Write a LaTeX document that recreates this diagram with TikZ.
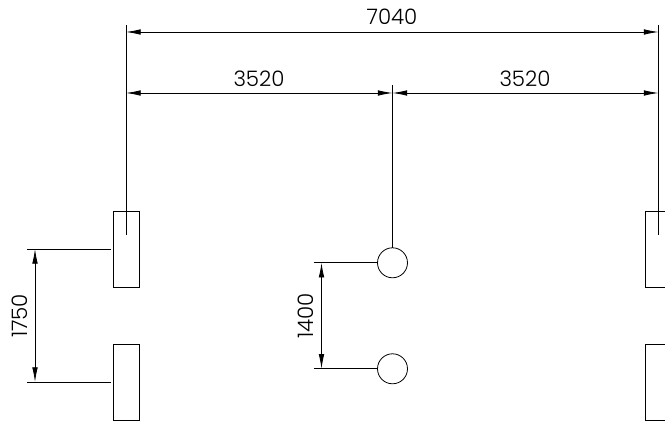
\documentclass[tikz,border=0pt]{standalone}
\usepackage{fontspec}
\setmainfont{Poppins Light}
\usetikzlibrary{arrows.meta}

\begin{document}
\begin{tikzpicture}[x=.75pt,y=-.75pt,line width=.6pt,
    post/.style={draw,minimum width=18.9pt,minimum height=57pt,inner sep=0pt,outer sep=0pt},
    pile/.style={draw,circle,minimum size=22.5pt,inner sep=0pt,outer sep=0pt},
    dimline/.style={{Latex[length=11pt,width=4.2pt]}-{Latex[length=11pt,width=4.2pt]}},
    dimtext/.style={font=\fontsize{16pt}{16pt}\selectfont,inner sep=0pt}]
  \useasboundingbox (0,0) rectangle (665,423);
  \clip (0,0) rectangle (665,423);

  % columns
  \node[post] (postA) at (126.3,249) {};
  \node[post] (postB) at (126.3,382) {};
  \node[post] (postC) at (658.3,249) {};
  \node[post] (postD) at (658.3,382) {};
  \node[pile] (pileA) at (392.5,262.8) {};
  \node[pile] (pileB) at (392.5,368.8) {};

  % witness lines
  \coordinate (topA) at (126,25);
  \coordinate (endA) at (126,235);
  \coordinate (topC) at (658.5,25);
  \coordinate (endC) at (658.5,235);
  \coordinate (topM) at (392.5,85);
  \draw (topA) -- (endA);
  \draw (topC) -- (endC);
  \draw (topM) -- (pileA.north);

  \coordinate (extA) at (27,249);
  \coordinate (stopA) at (111,249);
  \coordinate (extB) at (27,382);
  \coordinate (stopB) at (111,382);
  \coordinate (extP) at (314,262.8);
  \coordinate (extQ) at (314,368.8);
  \draw (extA) -- (stopA);
  \draw (extB) -- (stopB);
  \draw (extP) -- (pileA.west);
  \draw (extQ) -- (pileB.west);

  % dimensions
  \coordinate (dimL) at (126,32);
  \coordinate (dimR) at (658.5,32);
  \coordinate (midL) at (126,93);
  \coordinate (midM) at (392.5,93);
  \coordinate (midR) at (658.5,93);
  \coordinate (sideA) at (35,249);
  \coordinate (sideB) at (35,382);
  \coordinate (sideP) at (321.5,262.8);
  \coordinate (sideQ) at (321.5,368.8);
  \draw[dimline] (dimL) -- (dimR);
  \draw[dimline] (midL) -- (midM);
  \draw[dimline] (midM) -- (midR);
  \draw[dimline] (sideA) -- (sideB);
  \draw[dimline] (sideP) -- (sideQ);

  \node[dimtext] (lenAll) at (392,17) {7040};
  \node[dimtext] (lenLeft) at (259,79) {3520};
  \node[dimtext] (lenRight) at (525,79) {3520};
  \node[dimtext,rotate=90] (lenPost) at (20,316) {1750};
  \node[dimtext,rotate=90] (lenPile) at (306,316) {1400};
\end{tikzpicture}
\end{document}
